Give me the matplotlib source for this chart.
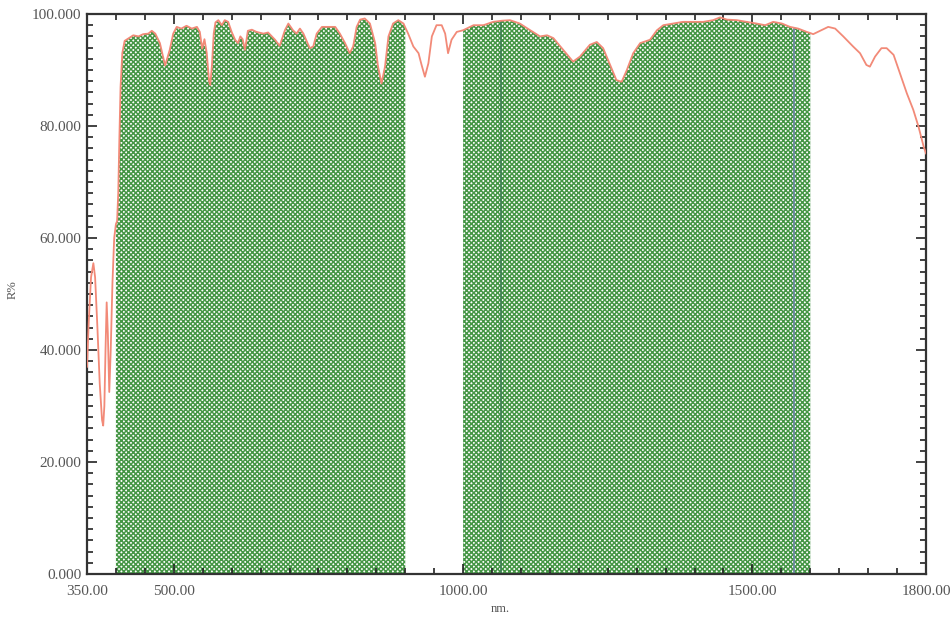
import numpy as np
import matplotlib
matplotlib.use("Agg")
import matplotlib.pyplot as plt
from matplotlib.ticker import MultipleLocator, FixedLocator

# ---------------- data ----------------
wavelength_nm = [
    350, 353, 357, 361, 364, 368, 372, 376, 378, 380, 382, 384, 386, 388.5, 391, 394, 397,
    400, 402, 404, 406, 408, 411, 415, 421, 430, 439, 447, 456, 462, 468, 476, 485, 493,
    499, 505, 513, 522, 531, 540, 545, 549, 553, 557, 561, 563, 566, 569, 572, 577, 583,
    588, 594, 600, 606, 611, 615, 619, 623, 628, 635, 643, 655, 663, 675, 683, 692, 698,
    706, 712, 718, 724, 735, 741, 747, 756, 767, 779, 787, 796, 804, 810, 816, 822, 830,
    839, 848, 853, 859, 865, 871, 879, 888, 897, 900, 905, 914, 923, 928, 934, 940, 946,
    954, 963, 969, 974, 980, 989, 1000, 1018, 1035, 1052, 1067, 1081, 1098, 1116, 1133,
    1145, 1156, 1173, 1190, 1202, 1219, 1231, 1242, 1254, 1265, 1274, 1283, 1294, 1306,
    1323, 1335, 1346, 1363, 1380, 1398, 1415, 1432, 1444, 1456, 1473, 1490, 1507, 1522,
    1536, 1551, 1565, 1579, 1594, 1600, 1605, 1617, 1631, 1643, 1657, 1674, 1686, 1697,
    1703, 1712, 1723, 1732, 1744, 1755, 1767, 1778, 1787, 1796, 1800,
]
reflectance_pct = [
    37.0, 45.0, 53.0, 55.5, 53.0, 44.0, 34.0, 27.5, 26.5, 30.0, 40.0, 48.5, 43.0, 32.5, 40.0, 52.0, 60.0,
    62.5, 63.0, 68.0, 78.0, 87.0, 93.0, 95.2, 95.6, 96.2, 96.0, 96.4, 96.5, 97.0, 96.5, 94.8, 90.8, 93.6,
    96.5, 97.7, 97.4, 97.9, 97.4, 97.7, 96.8, 93.8, 95.5, 93.0, 88.0, 87.3, 91.0, 96.5, 98.5, 98.9, 98.0,
    98.9, 98.6, 96.8, 95.4, 94.8, 96.0, 95.5, 93.6, 97.0, 97.2, 96.8, 96.5, 96.7, 95.4, 94.3, 97.1, 98.3,
    97.1, 96.5, 97.4, 96.5, 93.9, 94.2, 96.5, 97.7, 97.7, 97.7, 96.5, 94.8, 93.0, 94.2, 97.7, 99.0, 99.2,
    98.3, 94.8, 90.6, 87.6, 90.6, 96.0, 98.3, 98.9, 98.3, 97.6, 96.5, 94.2, 93.0, 91.0, 88.8, 91.2, 96.0,
    98.0, 98.0, 96.5, 93.0, 95.4, 96.8, 97.1, 98.0, 98.0, 98.6, 98.8, 98.9, 98.3, 97.1, 96.0,
    96.2, 95.7, 93.6, 91.5, 92.4, 94.5, 95.0, 93.9, 90.9, 88.2, 87.9, 90.0, 93.0, 94.8,
    95.4, 97.1, 98.0, 98.3, 98.6, 98.6, 98.6, 98.9, 99.4, 99.0, 98.9, 98.6, 98.3, 98.0,
    98.6, 98.3, 97.7, 97.4, 96.8, 96.6, 96.4, 97.0, 97.7, 97.4, 96.0, 94.2, 93.0, 90.9,
    90.6, 92.4, 93.9, 93.9, 92.7, 89.4, 85.8, 82.9, 79.9, 76.3, 75.1,
]
band_starts = [400, 1000]
band_ends = [900, 1600]
marker_lines_nm = [1065, 1572]
marker_colors = ["#3f7f55", "#6f86a8"]

x_ticks = [350, 500, 1000, 1500, 1800]
x_ticklabels = ["350.00", "500.00", "1000.00", "1500.00", "1800.00"]
y_ticks = [0, 20, 40, 60, 80, 100]
y_ticklabels = ["0.000", "20.000", "40.000", "60.000", "80.000", "100.000"]

# ---------------- plot ----------------
plt.rcParams["hatch.linewidth"] = 1.1
plt.rcParams["font.family"] = ["Liberation Serif", "DejaVu Serif"]

W, H = 953, 618
fig = plt.figure(figsize=(W / 100, H / 100), dpi=100)
ax = fig.add_axes([87 / W, 1 - 574 / H, (926 - 87) / W, (574 - 14) / H])

x = np.array(wavelength_nm, dtype=float)
y = np.array(reflectance_pct, dtype=float)

green = "#459645"
for s, e in zip(band_starts, band_ends):
    m = (x >= s) & (x <= e)
    ax.fill_between(x[m], 0, y[m], facecolor="white", edgecolor=green,
                    hatch="x" * 7, linewidth=0, zorder=1)

tops = np.interp(marker_lines_nm, x, y)
for xv, top, c in zip(marker_lines_nm, tops, marker_colors):
    ax.vlines(xv, 0, top, color=c, linewidth=1.2, zorder=2)

ax.plot(x, y, color="#f28a78", linewidth=1.3, zorder=3)

ax.set_xlim(350, 1800)
ax.set_ylim(0, 100)

ax.xaxis.set_major_locator(FixedLocator(x_ticks))
ax.set_xticklabels(x_ticklabels)
ax.xaxis.set_minor_locator(FixedLocator(list(range(400, 1800, 50))))
ax.yaxis.set_major_locator(FixedLocator(y_ticks))
ax.set_yticklabels(y_ticklabels)
ax.yaxis.set_minor_locator(MultipleLocator(2))

ax.tick_params(which="both", direction="in", top=True, right=True,
               color="#222222", width=1.2)
ax.tick_params(which="major", length=7, labelsize=11, labelcolor="#555555")
ax.tick_params(which="minor", length=4)
ax.tick_params(axis="x", which="major", pad=8)
ax.tick_params(axis="y", which="major", pad=4)

for sp in ax.spines.values():
    sp.set_linewidth(1.6)
    sp.set_color("#333333")

fig.text(500 / W, 1 - 609 / H, "nm.", ha="center", va="center",
         fontsize=9, color="#555555")
fig.text(13 / W, 1 - 290 / H, "R%", ha="center", va="center",
         rotation=90, fontsize=9, color="#555555")

fig.savefig("out.png", dpi=100)
